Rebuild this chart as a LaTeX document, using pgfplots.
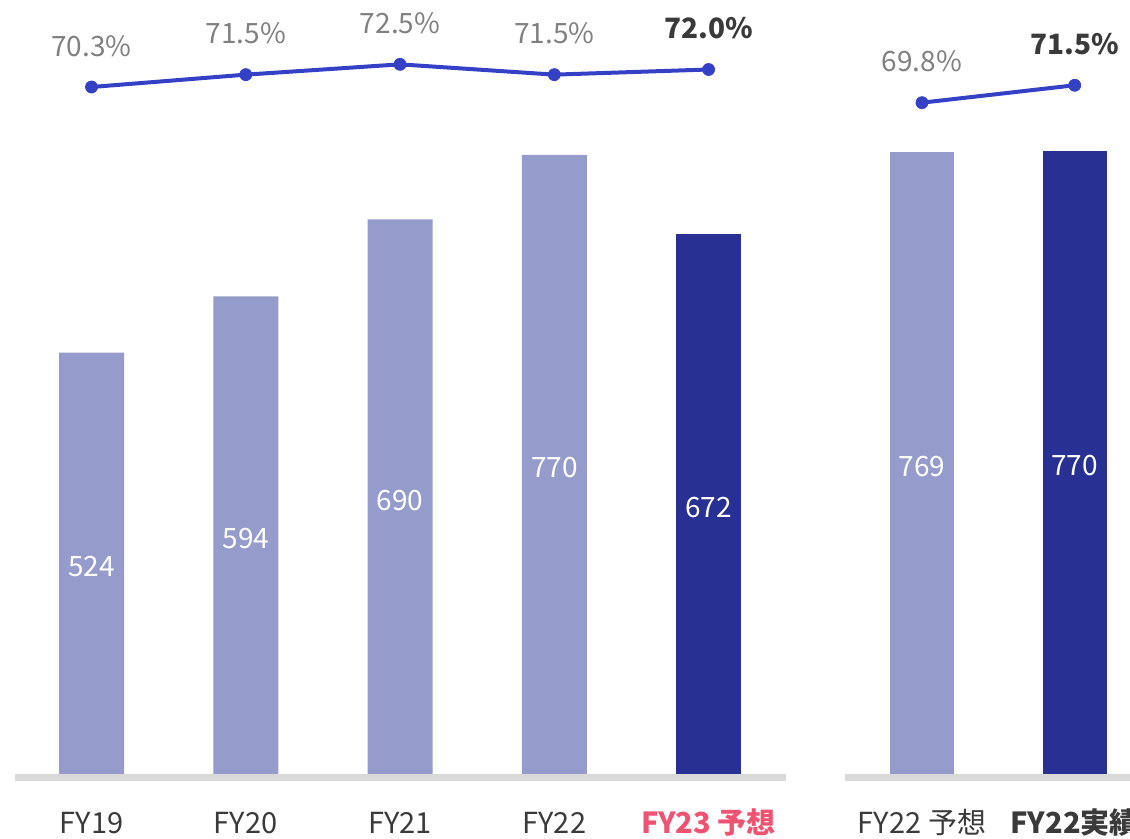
\documentclass[border=0pt]{standalone}
\usepackage{pgfplots}
\pgfplotsset{compat=1.18}
\usepackage{fontspec}
\setmainfont{Noto Sans CJK JP}

\definecolor{barlight}{HTML}{959BCB}
\definecolor{bardark}{HTML}{283093}
\definecolor{lineblue}{HTML}{3441C6}
\definecolor{basegray}{HTML}{D9D9D9}
\definecolor{pctgray}{HTML}{808080}
\definecolor{txtdark}{HTML}{3A3A3A}
\definecolor{hlpink}{HTML}{EE5372}

\pgfplotsset{
  panel/.style={
    scale only axis, anchor=south west, clip=false,
    axis line style={draw=none},
    major tick length=0pt, ytick=\empty,
    /pgf/number format/assume math mode=true,
  },
  barpanel/.style={
    panel,
    xticklabel style={anchor=base, yshift=-30pt, text=txtdark,
      font=\fontsize{14.5}{17}\selectfont},
    visualization depends on={y \as \rawy},
    nodes near coords={\pgfmathprintnumber{\rawy}},
    every node near coord/.append style={anchor=center, text=white,
      font=\fontsize{14}{17}\selectfont,
      shift={(axis direction cs:0,-0.5*\rawy)}, yshift=-1.75pt},
  },
  linepanel/.style={
    panel, hide axis, xtick=\empty,
  },
  % #1: x from which the label is set bold (the current year)
  pctline/.style={
    lineblue, line width=2pt, mark=*, mark size=3pt,
    mark options={fill=lineblue, draw=lineblue, line width=0.4pt},
    visualization depends on={x \as \rawx},
    nodes near coords={\ifdim\rawx pt>#1pt\color{txtdark}\bfseries\fi
      \pgfmathprintnumber[fixed,fixed zerofill,precision=1]{\pgfplotspointmeta}\%},
    every node near coord/.append style={anchor=center, yshift=20.5pt,
      text=pctgray, font=\fontsize{14}{17}\selectfont},
  },
}

\begin{document}
\begin{tikzpicture}
  \path[use as bounding box] (0,0) rectangle (565pt,419.5pt);

  % left panel: bars
  \begin{axis}[barpanel, at={(7.5pt,32.5pt)}, width=385.35pt, height=387pt,
      xmin=-0.496, xmax=4.5, ymin=0, ymax=962.8,
      xtick={0,1,2,3,4},
      xticklabels={FY19,FY20,FY21,FY22,{\textcolor{hlpink}{\bfseries FY23 予想}}}]
    \fill[basegray] (rel axis cs:0,0) rectangle ([yshift=-3.5pt]rel axis cs:1,0);
    \addplot[ybar, bar shift=0pt, bar width=32.5pt, fill=barlight, draw=none]
      coordinates {(0,524) (1,594) (2,690) (3,770)};
    \addplot[ybar, bar shift=0pt, bar width=32.5pt, fill=bardark, draw=none]
      coordinates {(4,672)};
  \end{axis}

  % left panel: ratio line
  \begin{axis}[linepanel, at={(7.5pt,32.5pt)}, width=385.35pt, height=387pt,
      xmin=-0.496, xmax=4.5, ymin=3.6, ymax=78.75]
    \addplot[pctline=3.5]
      coordinates {(0,70.3) (1,71.5) (2,72.5) (3,71.5) (4,72.0)};
  \end{axis}

  % right panel: bars
  \begin{axis}[barpanel, at={(422.5pt,32.5pt)}, width=142.5pt, height=387pt,
      xmin=-0.504, xmax=1.362, ymin=0, ymax=956.7,
      xtick={0,1},
      xticklabels={FY22 予想,{\bfseries FY22実績}}]
    \fill[basegray] (rel axis cs:0,0) rectangle ([yshift=-3.5pt]rel axis cs:1,0);
    \addplot[ybar, bar shift=0pt, bar width=32pt, fill=barlight, draw=none]
      coordinates {(0,769)};
    \addplot[ybar, bar shift=0pt, bar width=32pt, fill=bardark, draw=none]
      coordinates {(1,770)};
  \end{axis}

  % right panel: ratio line
  \begin{axis}[linepanel, at={(422.5pt,32.5pt)}, width=142.5pt, height=387pt,
      xmin=-0.504, xmax=1.362, ymin=4.24, ymax=79.83]
    \addplot[pctline=0.5]
      coordinates {(0,69.8) (1,71.5)};
  \end{axis}
\end{tikzpicture}
\end{document}
